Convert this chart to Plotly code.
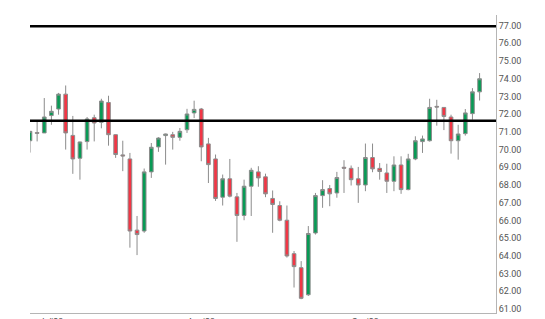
import plotly.graph_objects as go

dates = [
    "2023-06-28", "2023-06-29", "2023-06-30",
    "2023-07-03", "2023-07-04", "2023-07-05", "2023-07-06", "2023-07-07",
    "2023-07-10", "2023-07-11", "2023-07-12", "2023-07-13", "2023-07-14",
    "2023-07-17", "2023-07-18", "2023-07-19", "2023-07-20", "2023-07-21",
    "2023-07-24", "2023-07-25", "2023-07-26", "2023-07-27", "2023-07-28",
    "2023-07-31",
    "2023-08-01", "2023-08-02", "2023-08-03", "2023-08-04",
    "2023-08-07", "2023-08-08", "2023-08-09", "2023-08-10", "2023-08-11",
    "2023-08-14", "2023-08-15", "2023-08-16", "2023-08-17", "2023-08-18",
    "2023-08-21", "2023-08-22", "2023-08-23", "2023-08-24", "2023-08-25",
    "2023-08-28", "2023-08-29", "2023-08-30", "2023-08-31",
    "2023-09-01",
    "2023-09-04", "2023-09-05", "2023-09-06", "2023-09-07", "2023-09-08",
    "2023-09-11", "2023-09-12", "2023-09-13", "2023-09-14", "2023-09-15",
    "2023-09-18", "2023-09-19", "2023-09-20", "2023-09-21", "2023-09-22",
    "2023-09-25",
]

open_ = [70.50, 70.96, 70.94, 71.92, 72.29, 73.13, 70.80, 69.51, 70.45, 71.80,
         71.54, 72.66, 70.84, 69.70, 69.47, 65.45, 65.40, 68.74, 70.15, 70.79,
         70.84, 70.69, 71.12, 72.07, 72.29, 70.32, 69.47, 67.31, 68.35, 67.33,
         66.28, 67.93, 68.74, 68.46, 67.24, 66.84, 66.01, 64.12, 63.33, 61.80,
         65.29, 67.40, 67.80, 67.55, 69.00, 68.94, 68.35, 68.00, 69.55, 68.94,
         68.68, 68.21, 69.13, 67.74, 69.47, 70.45, 70.50, 72.44, 72.38, 71.84,
         70.50, 70.90, 72.03, 73.26]
high = [71.05, 71.60, 72.91, 72.48, 73.20, 73.62, 71.90, 70.45, 71.84, 71.97,
        72.87, 73.04, 70.86, 70.50, 69.81, 66.25, 68.93, 70.37, 70.70, 70.90,
        71.00, 71.22, 72.30, 72.76, 72.35, 70.66, 69.72, 68.59, 69.47, 67.55,
        68.30, 68.97, 69.06, 68.64, 67.69, 67.08, 66.84, 64.27, 63.70, 65.68,
        67.55, 68.27, 68.00, 68.74, 69.40, 69.10, 69.02, 70.34, 70.34, 69.24,
        69.20, 69.62, 69.62, 69.76, 70.75, 70.79, 72.87, 72.81, 72.40, 71.97,
        71.40, 72.29, 73.47, 74.32]
low = [69.83, 70.46, 70.94, 71.40, 71.97, 70.00, 68.63, 68.30, 70.00, 70.46,
       71.20, 70.22, 69.53, 68.78, 64.46, 64.04, 65.30, 68.40, 69.87, 69.15,
       70.00, 70.50, 70.94, 71.78, 69.34, 68.11, 67.10, 66.84, 67.30, 64.79,
       66.01, 66.25, 67.90, 67.31, 65.30, 65.95, 63.90, 62.21, 61.55, 61.73,
       65.20, 66.71, 66.80, 67.28, 67.55, 67.97, 66.99, 67.65, 68.72, 68.30,
       67.55, 67.65, 67.50, 67.70, 69.40, 69.81, 70.45, 71.35, 71.10, 69.77,
       69.43, 70.79, 71.69, 72.77]
close = [71.03, 70.92, 71.84, 72.16, 73.13, 70.94, 69.47, 70.43, 71.73, 71.50,
         72.74, 70.84, 69.72, 69.64, 65.40, 65.20, 68.74, 70.13, 70.65, 70.88,
         70.69, 71.03, 72.01, 72.27, 70.15, 69.15, 67.24, 68.35, 67.37, 66.28,
         67.93, 68.83, 68.40, 67.50, 66.90, 66.01, 63.99, 63.39, 61.60, 65.26,
         67.40, 67.74, 67.50, 68.42, 68.95, 68.30, 68.00, 69.55, 68.91, 68.76,
         68.21, 69.13, 67.74, 69.47, 70.50, 70.60, 72.38, 72.40, 71.87, 70.50,
         70.88, 72.07, 73.26, 74.00]

levels = [76.97, 71.63]

tick_dates = ["2023-07-03", "2023-08-01", "2023-09-01"]
tick_labels = ["Jul'23", "Aug'23", "Sep'23"]

fig = go.Figure()
fig.add_trace(go.Candlestick(
    x=dates, open=open_, high=high, low=low, close=close,
    increasing=dict(fillcolor="#089a55", line=dict(color="#8c8c8c", width=1)),
    decreasing=dict(fillcolor="#f23645", line=dict(color="#8c8c8c", width=1)),
    whiskerwidth=0,
    showlegend=False,
))

for lv in levels:
    fig.add_shape(type="line", xref="paper", x0=0, x1=1, yref="y", y0=lv, y1=lv,
                  line=dict(color="black", width=2.5))

fig.update_layout(
    width=545, height=319,
    margin=dict(l=30, r=49, t=15, b=6),
    paper_bgcolor="white", plot_bgcolor="white",
    font=dict(family="Roboto", size=9, color="#555555"),
    boxgap=0.27,
    xaxis=dict(
        type="category", rangeslider=dict(visible=False),
        range=[0, 65.3],
        tickmode="array", tickvals=tick_dates, ticktext=tick_labels,
        showgrid=False, showline=True, linecolor="#b5b5b5", linewidth=1,
        ticks="", zeroline=False, automargin=False,
    ),
    yaxis=dict(
        side="right", range=[60.77, 77.6], dtick=1, tick0=61,
        tickformat=".2f", showgrid=False, showline=True,
        linecolor="#b5b5b5", linewidth=1, ticks="", zeroline=False,
        automargin=False,
    ),
)

fig.write_html("out.html")
